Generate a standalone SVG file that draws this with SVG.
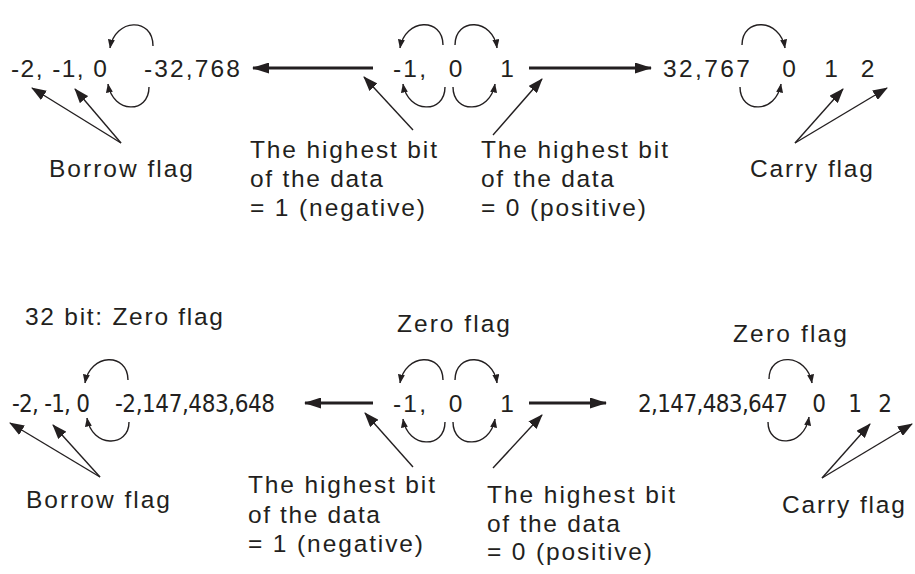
<svg xmlns="http://www.w3.org/2000/svg" width="915" height="574" viewBox="0 0 915 574">
<style>
  text { font-family: "Liberation Sans", Arial, sans-serif; font-size: 24.5px; fill: #231f20; }
  text.n { font-family: "Liberation Sans Narrow", "DejaVu Sans Condensed", "Liberation Sans", sans-serif; font-size: 24px; }
  text.c { text-anchor: middle; }
  .big { stroke: #231f20; stroke-width: 2.8; fill: none; marker-end: url(#mBig); }
  .thin { stroke: #231f20; stroke-width: 1.4; fill: none; marker-end: url(#mSmall); }
  .arc { stroke: #231f20; stroke-width: 1.4; fill: none; marker-end: url(#mArc); }
</style>
<defs>
  <marker id="mBig" markerUnits="userSpaceOnUse" viewBox="0 0 17 11" refX="16" refY="5.5" markerWidth="17" markerHeight="11" orient="auto">
    <path d="M0,0 L17,5.5 L0,11 z" fill="#231f20"/>
  </marker>
  <marker id="mSmall" markerUnits="userSpaceOnUse" viewBox="0 0 15 11" refX="14" refY="5.5" markerWidth="15" markerHeight="11" orient="auto">
    <path d="M0,0 L15,5.5 L0,11 z" fill="#231f20"/>
  </marker>
  <marker id="mArc" markerUnits="userSpaceOnUse" viewBox="0 0 9 7" refX="8.5" refY="3.5" markerWidth="9" markerHeight="7" orient="auto">
    <path d="M0,0 L9,3.5 L0,7 z" fill="#231f20"/>
  </marker>
</defs>
<rect width="915" height="574" fill="#ffffff"/>

<!-- Row 1: 16 bit -->
<g id="r1-neg-low"><text x="11" y="77" textLength="96">-2, -1, 0</text></g>
<g id="r1-min"><text x="144" y="77" textLength="96">-32,768</text></g>
<g id="r1-mid">
  <text x="393" y="77" textLength="33">-1,</text>
  <text class="c" x="455.5" y="77">0</text>
  <text class="c" x="507" y="77">1</text>
</g>
<g id="r1-max"><text x="663" y="77" textLength="87">32,767</text></g>
<g id="r1-pos-low">
  <text class="c" x="789" y="77">0</text>
  <text class="c" x="831" y="77">1</text>
  <text class="c" x="867.5" y="77">2</text>
</g>
<g id="r1-borrow"><text x="49" y="177" textLength="144">Borrow flag</text></g>
<g id="r1-hb-neg">
  <text x="250" y="158" textLength="187">The highest bit</text>
  <text x="250" y="187" textLength="133">of the data</text>
  <text x="250" y="216" textLength="175">= 1 (negative)</text>
</g>
<g id="r1-hb-pos">
  <text x="481" y="158" textLength="187">The highest bit</text>
  <text x="481" y="187" textLength="133">of the data</text>
  <text x="481" y="216" textLength="165">= 0 (positive)</text>
</g>
<g id="r1-carry"><text x="750" y="177" textLength="123">Carry flag</text></g>

<!-- Row 2: 32 bit -->
<g id="r2-title"><text x="25" y="325" textLength="198">32 bit: Zero flag</text></g>
<g id="r2-zero-mid"><text x="397" y="332" textLength="113">Zero flag</text></g>
<g id="r2-zero-right"><text x="733" y="342" textLength="114">Zero flag</text></g>
<g id="r2-neg-low"><text class="n" x="12" y="412" textLength="78">-2, -1, 0</text></g>
<g id="r2-min"><text class="n" x="115" y="412" textLength="160">-2,147,483,648</text></g>
<g id="r2-mid">
  <text x="393" y="412" textLength="33">-1,</text>
  <text class="c" x="455.5" y="412">0</text>
  <text class="c" x="507" y="412">1</text>
</g>
<g id="r2-max"><text class="n" x="638" y="412" textLength="150">2,147,483,647</text></g>
<g id="r2-pos-low">
  <text class="n c" x="819" y="412">0</text>
  <text class="n c" x="855" y="412">1</text>
  <text class="n c" x="885" y="412">2</text>
</g>
<g id="r2-borrow"><text x="26" y="508" textLength="144">Borrow flag</text></g>
<g id="r2-hb-neg">
  <text x="248" y="493" textLength="187">The highest bit</text>
  <text x="248" y="523" textLength="132">of the data</text>
  <text x="248" y="552" textLength="175">= 1 (negative)</text>
</g>
<g id="r2-hb-pos">
  <text x="487" y="503" textLength="188">The highest bit</text>
  <text x="487" y="532" textLength="133">of the data</text>
  <text x="487" y="560" textLength="165">= 0 (positive)</text>
</g>
<g id="r2-carry"><text x="782" y="513" textLength="123">Carry flag</text></g>

<g id="connectors">
  <!-- Row 1 horizontal -->
  <path class="big" d="M373,68 L253,68"/>
  <path class="big" d="M529,68 L651,68"/>
  <!-- Row 1 slanted -->
  <path class="thin" d="M121,143 L32,88"/>
  <path class="thin" d="M121,143 L75,89"/>
  <path class="thin" d="M413,130 L364,77"/>
  <path class="thin" d="M493,135 L542,79"/>
  <path class="thin" d="M795,143 L843,89"/>
  <path class="thin" d="M795,143 L887,88"/>
  <!-- Row 1 arcs -->
  <path class="arc" d="M153,46 C153,17 115,18 110,48"/>
  <path class="arc" d="M149,87 C149,114 113,114 108,84"/>
  <path class="arc" d="M443,45 C443,17 405,18 400,48"/>
  <path class="arc" d="M455,45 C455,17 493,18 497,48"/>
  <path class="arc" d="M445,87 C445,114 408,114 403,84"/>
  <path class="arc" d="M453,87 C453,114 490,114 495,84"/>
  <path class="arc" d="M742,45 C742,17 780,18 785,48"/>
  <path class="arc" d="M740,87 C740,114 776,114 781,84"/>

  <!-- Row 2 horizontal -->
  <path class="big" d="M373,403 L305,403"/>
  <path class="big" d="M529,403 L606,403"/>
  <!-- Row 2 slanted -->
  <path class="thin" d="M100,477 L10,423"/>
  <path class="thin" d="M100,477 L53,425"/>
  <path class="thin" d="M413,467 L365,413"/>
  <path class="thin" d="M493,468 L542,415"/>
  <path class="thin" d="M822,478 L870,424"/>
  <path class="thin" d="M822,478 L912,424"/>
  <!-- Row 2 arcs -->
  <path class="arc" d="M128,380 C128,352 90,353 85,383"/>
  <path class="arc" d="M129,422 C129,448 92,448 87,418"/>
  <path class="arc" d="M443,380 C443,352 405,353 400,383"/>
  <path class="arc" d="M455,380 C455,352 493,353 497,383"/>
  <path class="arc" d="M445,422 C445,449 408,449 403,419"/>
  <path class="arc" d="M453,422 C453,449 490,449 495,419"/>
  <path class="arc" d="M769,379 C769,352 807,353 812,383"/>
  <path class="arc" d="M768,422 C768,448 804,448 809,417"/>
</g>
</svg>
